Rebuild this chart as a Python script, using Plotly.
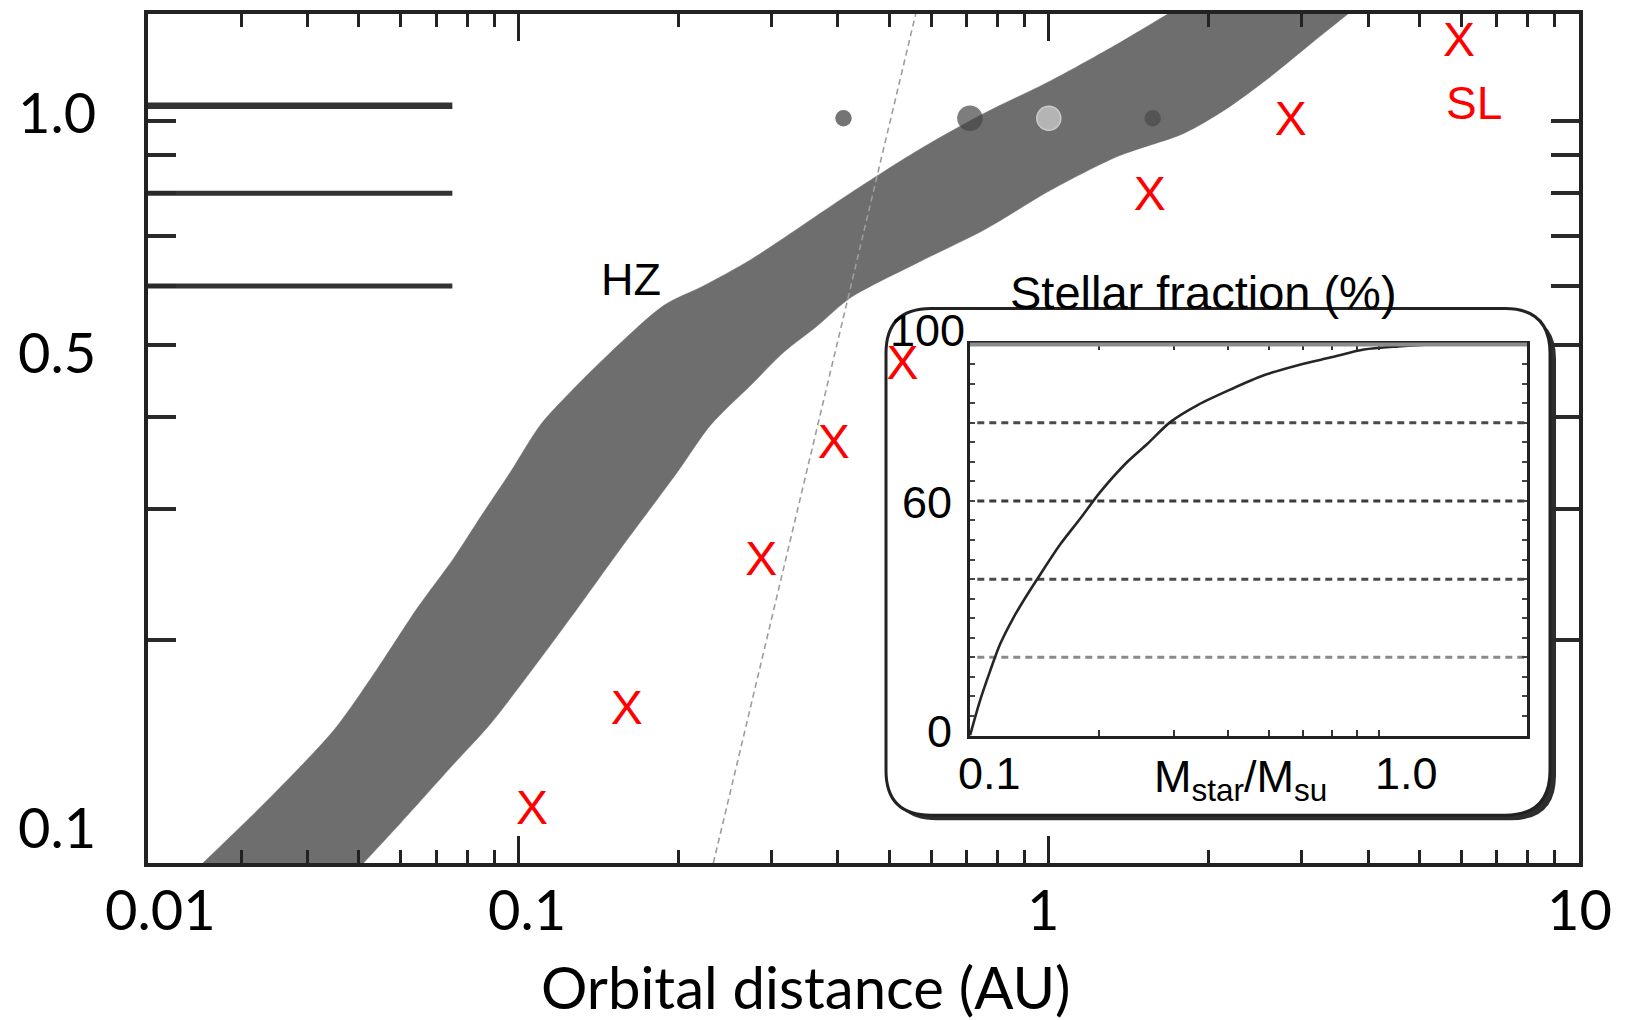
import numpy as np
import plotly.graph_objects as go

# ---------------- data ----------------
# Habitable-zone edges: orbital distance (AU) against stellar mass (M/M_sun);
# the end points run just past the plotted mass range so the band reaches both axes
hz_inner_au = [0.0208, 0.0254, 0.0336, 0.0448, 0.0542, 0.0645, 0.0754, 0.0848, 0.0966, 0.110,
               0.125, 0.149, 0.188, 0.223, 0.274, 0.423, 0.566, 0.754, 1.009, 1.35, 1.677, 1.97]
hz_inner_mass = [0.0871, 0.100, 0.1215, 0.151, 0.183, 0.221, 0.2575, 0.293, 0.337, 0.390,
                 0.431, 0.488, 0.565, 0.600, 0.651, 0.801, 0.914, 1.025, 1.135, 1.273, 1.396, 1.495]
hz_outer_au = [0.0426, 0.051, 0.0599, 0.0744, 0.0886, 0.1067, 0.1292, 0.1558, 0.1995, 0.2303, 0.274,
               0.3162, 0.3666, 0.4231, 0.5659, 0.7542, 1.009, 1.35, 1.797, 2.139, 2.589, 3.121,
               3.666, 4.137]
hz_outer_mass = [0.0871, 0.100, 0.1132, 0.1345, 0.1542, 0.1833, 0.2206, 0.2655, 0.337, 0.3896, 0.4408,
                 0.4882, 0.5306, 0.5787, 0.645, 0.7138, 0.808, 0.8974, 0.9636, 1.0346, 1.142, 1.273,
                 1.396, 1.495]

# Tidal-locking distance
tidal_au = [0.233, 0.561]
tidal_mass = [0.100, 1.396]

# Solar-system planets
planet_names = ["Mercury", "Venus", "Earth", "Mars"]
planet_au = [0.41, 0.71, 1.0, 1.57]
planet_mass = [1.01, 1.01, 1.01, 1.01]
planet_size = [15, 24, 24, 15]
planet_color = ["#3a3a3a", "#474747", "#d2d2d2", "#4a4a4a"]
planet_edge = ["#3a3a3a", "#474747", "#f2f2f2", "#4a4a4a"]

# Snow-line positions
snow_au = [0.106, 0.16, 0.287, 0.393, 0.53, 1.55, 2.86, 5.94]
snow_mass = [0.117, 0.16, 0.254, 0.365, 0.466, 0.788, 0.994, 1.27]

# Reference bars on the left
ref_levels = [1.05, 0.8, 0.6]
ref_widths = [6.5, 5, 5]
ref_au = [0.02, 0.075]

# Main-axis tick values and labels
x_major = [0.1, 1, 10]
x_minor = [0.03, 0.04, 0.05, 0.06, 0.07, 0.08, 0.09,
           0.2, 0.3, 0.4, 0.5, 0.6, 0.7, 0.8, 0.9,
           2, 3, 4, 5, 6, 7, 8, 9]
x_labels = ["0.1", "1", "10"]
x_label_shift = [8, -6, 0]
y_ticks = [0.2, 0.3, 0.4, 0.5, 0.6, 0.7, 0.8, 0.9, 1.0]
y_label_vals = [1.0, 0.5, 0.1]
y_labels = ["1.0", "0.5", "0.1"]
y_label_shift = [10, -7, 37]

# Inset: cumulative stellar fraction vs stellar mass
frac_mass = [0.1, 0.1055, 0.1114, 0.1176, 0.1261, 0.136, 0.1459, 0.1625, 0.181, 0.2016, 0.2332,
             0.2597, 0.294, 0.3402, 0.4064, 0.4855, 0.5834, 0.6968, 0.832, 1.0, 1.2, 1.6]
frac_pct = [0, 8.9, 16.5, 23.4, 30, 36, 41.2, 48.9, 55.5, 62.3, 70,
            74.6, 80.2, 84.5, 88.5, 92.1, 94.7, 96.7, 98.7, 99.5, 100, 100]
inset_grid = [20, 40, 60, 80]
inset_grid_color = ["#8a8a8a", "#4a4a4a", "#3a3a3a", "#4a4a4a"]
inset_x_ticks = [0.2, 0.3, 0.4, 0.5, 0.6, 0.7, 0.8, 0.9]
inset_y_labels = [100, 60, 0]
inset_y_shift = [14, -2, 4]
inset_y_xpos = [927, 927, 939]
inset_x_labels = ["0.1", "1.0"]
inset_x_vals = [0.1, 1.0]
inset_x_shift = [19, 8]

# ---------------- layout geometry (pixels) ----------------
W, H = 1626, 1020
PL, PR, PT, PB = 148, 1579, 10, 863


def px_x(px):
    return (px - PL) / (PR - PL)


def px_y(py):
    return (PB - py) / (PB - PT)


def rounded_rect(l, t, r, b, rad):
    """SVG path for a rounded rectangle given in pixel coordinates."""
    x0, x1 = px_x(l), px_x(r)
    y0, y1 = px_y(b), px_y(t)
    rx = rad / (PR - PL)
    ry = rad / (PB - PT)
    return (f"M {x0 + rx},{y1} L {x1 - rx},{y1} Q {x1},{y1} {x1},{y1 - ry} "
            f"L {x1},{y0 + ry} Q {x1},{y0} {x1 - rx},{y0} "
            f"L {x0 + rx},{y0} Q {x0},{y0} {x0},{y0 + ry} "
            f"L {x0},{y1 - ry} Q {x0},{y1} {x0 + rx},{y1} Z")


LABEL_FONT = "Lato"
ARIAL = "Liberation Sans"
AX = "#222222"

fig = go.Figure()

# habitable zone band
fig.add_trace(go.Scatter(
    x=hz_inner_au + hz_outer_au[::-1],
    y=hz_inner_mass + hz_outer_mass[::-1],
    mode="lines", fill="toself", fillcolor="#6e6e6e",
    line=dict(width=0.5, color="#6e6e6e", shape="spline", smoothing=0.8),
    hoverinfo="skip"))

# reference bars
for lvl, w in zip(ref_levels, ref_widths):
    fig.add_trace(go.Scatter(x=ref_au, y=[lvl, lvl], mode="lines",
                             line=dict(color="#333333", width=w), hoverinfo="skip"))

# tidal-locking line
fig.add_trace(go.Scatter(x=tidal_au, y=tidal_mass, mode="lines",
                         line=dict(color="#9d9d9d", width=1.6, dash="6px,4px"),
                         hoverinfo="skip"))

# planets
fig.add_trace(go.Scatter(
    x=planet_au, y=planet_mass, mode="markers", text=planet_names,
    marker=dict(size=planet_size, color=planet_color,
                line=dict(color=planet_edge, width=1.5))))

# snow line crosses
fig.add_trace(go.Scatter(
    x=snow_au, y=snow_mass, mode="text", text=["X"] * len(snow_au),
    textposition="middle center", cliponaxis=False,
    textfont=dict(family=ARIAL, size=48, color="#ff0000")))

# inset: grid lines and stellar fraction curve
for g, c in zip(inset_grid, inset_grid_color):
    fig.add_trace(go.Scatter(x=[0.104, 2.0], y=[g, g], mode="lines", xaxis="x2", yaxis="y2",
                             line=dict(color=c, width=3, dash="7px,5px"), hoverinfo="skip"))
fig.add_trace(go.Scatter(x=frac_mass, y=frac_pct, mode="lines", xaxis="x2", yaxis="y2",
                         line=dict(color="#262626", width=2.6, shape="spline", smoothing=0.8)))

# ---------------- shapes ----------------
box = (886, 306, 1550, 815)
shapes = [
    dict(type="path", xref="paper", yref="paper", layer="below",
         path=rounded_rect(box[0] + 6, box[1] + 6, box[2] + 6, box[3] + 5, 45),
         fillcolor="#2e2e2e", line=dict(width=0)),
    dict(type="path", xref="paper", yref="paper", layer="below",
         path=rounded_rect(*box, 45),
         fillcolor="white", line=dict(color="#222222", width=3)),
    dict(type="line", xref="x2 domain", yref="y2 domain", x0=0, x1=1, y0=1, y1=1,
         line=dict(color="#8c8c8c", width=4), layer="above"),
]

# ---------------- annotations ----------------
ann = []
for v, t, s in zip(y_label_vals, y_labels, y_label_shift):
    ann.append(dict(x=px_x(98), xref="paper", y=np.log10(v), yref="y", yshift=s,
                    text=t, showarrow=False, xanchor="right", yanchor="middle",
                    font=dict(family=LABEL_FONT, size=56, color="black")))
for v, t, s in zip(x_major, x_labels, x_label_shift):
    ann.append(dict(x=np.log10(v), xref="x", xshift=s, y=px_y(909), yref="paper",
                    text=t, showarrow=False, xanchor="center", yanchor="middle",
                    font=dict(family=LABEL_FONT, size=56, color="black")))
ann.append(dict(x=px_x(160), xref="paper", y=px_y(909), yref="paper", text="0.01",
                showarrow=False, xanchor="center", yanchor="middle",
                font=dict(family=LABEL_FONT, size=56, color="black")))
ann.append(dict(x=px_x(806), xref="paper", y=px_y(987), yref="paper",
                text="Orbital distance (AU)", showarrow=False, xanchor="center", yanchor="middle",
                font=dict(family=LABEL_FONT, size=58, color="black")))
ann.append(dict(x=np.log10(0.163), y=np.log10(0.612), xref="x", yref="y", text="HZ",
                showarrow=False, font=dict(family=ARIAL, size=45, color="black")))
ann.append(dict(x=np.log10(6.34), y=np.log10(1.044), xref="x", yref="y", yshift=5, text="SL",
                showarrow=False, font=dict(family=ARIAL, size=46, color="#ff0000")))
ann.append(dict(x=px_x(1203), y=px_y(290), xref="paper", yref="paper",
                text="Stellar fraction (%)", showarrow=False, xanchor="center", yanchor="middle",
                font=dict(family=ARIAL, size=47, color="black")))
for v, s, xp in zip(inset_y_labels, inset_y_shift, inset_y_xpos):
    ann.append(dict(x=px_x(xp), xref="paper", y=v, yref="y2", yshift=s, text=str(v),
                    showarrow=False, xanchor="center", yanchor="middle",
                    font=dict(family=ARIAL, size=45, color="black")))
for v, t, s in zip(inset_x_vals, inset_x_labels, inset_x_shift):
    ann.append(dict(x=np.log10(v), xref="x2", xshift=s, y=px_y(773), yref="paper", text=t,
                    showarrow=False, xanchor="center", yanchor="middle",
                    font=dict(family=ARIAL, size=45, color="black")))
ann.append(dict(x=px_x(1240), xref="paper", y=px_y(779), yref="paper",
                text="M<sub>star</sub>/M<sub>su</sub>", showarrow=False,
                xanchor="center", yanchor="middle",
                font=dict(family=ARIAL, size=45, color="black")))

# ---------------- axes ----------------
fig.update_layout(
    width=W, height=H, autosize=False,
    margin=dict(l=PL, r=W - PR, t=PT, b=H - PB, pad=0),
    paper_bgcolor="white", plot_bgcolor="rgba(0,0,0,0)",
    showlegend=False, hovermode=False,
    shapes=shapes, annotations=ann,
    xaxis=dict(type="log", range=[np.log10(0.02), 1], domain=[0, 1],
               showline=True, linecolor=AX, linewidth=3.5, mirror="ticks",
               ticks="inside", ticklen=27, tickwidth=3, tickcolor=AX,
               tickmode="array", tickvals=x_major, showticklabels=False,
               showgrid=False, zeroline=False,
               minor=dict(tickmode="array", tickvals=x_minor, ticks="inside",
                          ticklen=13, tickwidth=3, tickcolor=AX, showgrid=False)),
    yaxis=dict(type="log", range=[-1, np.log10(1.396)], domain=[0, 1],
               showline=True, linecolor=AX, linewidth=3.5, mirror="ticks",
               ticks="inside", ticklen=28, tickwidth=3.5, tickcolor="#2a2a2a",
               tickmode="array", tickvals=y_ticks, showticklabels=False,
               showgrid=False, zeroline=False),
    xaxis2=dict(type="log", range=[-1, np.log10(2.0)],
                domain=[px_x(970), px_x(1527)], anchor="y2",
                showline=True, linecolor=AX, linewidth=2.5, mirror="ticks",
                ticks="inside", ticklen=6, tickwidth=2, tickcolor="#333333",
                tickmode="array", tickvals=inset_x_ticks, showticklabels=False,
                showgrid=False, zeroline=False),
    yaxis2=dict(range=[0, 100], domain=[px_y(735), px_y(342)], anchor="x2",
                showline=True, linecolor=AX, linewidth=2.5, mirror="ticks",
                ticks="inside", ticklen=5, tickwidth=1.5, tickcolor="#444444",
                tickmode="linear", tick0=0, dtick=5, showticklabels=False,
                showgrid=False, zeroline=False),
)

fig.write_html("out.html")
